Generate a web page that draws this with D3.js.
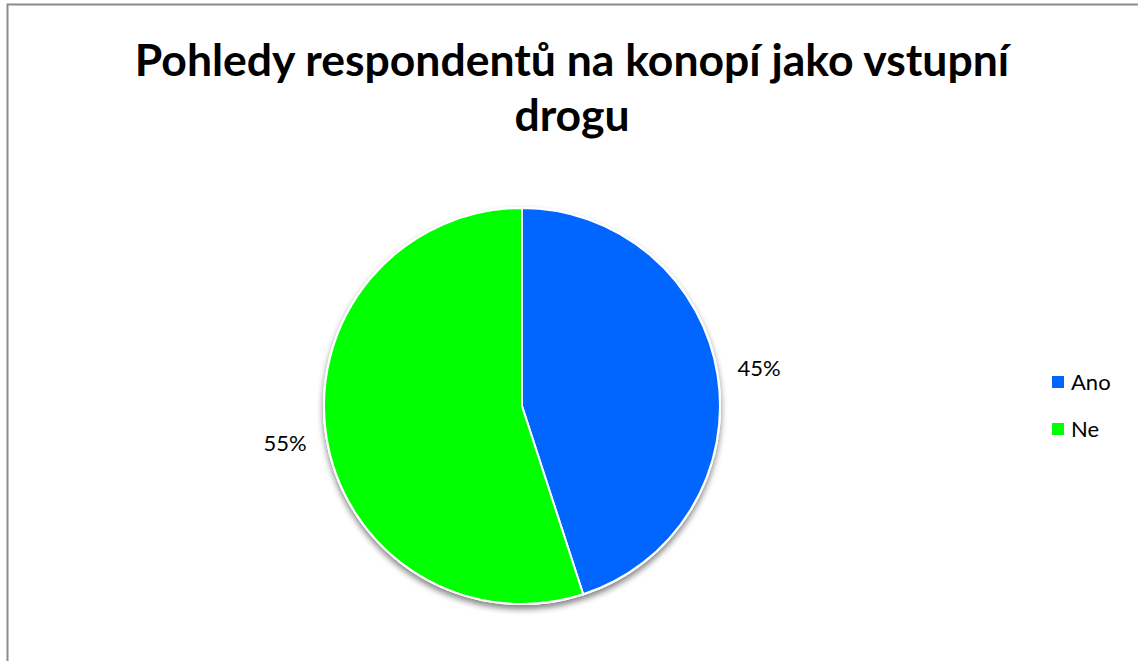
<!DOCTYPE html>
<html>
<head>
<meta charset="utf-8">
<title>Pohledy respondentů</title>
<script src="https://cdn.jsdelivr.net/npm/d3@7/dist/d3.min.js"></script>
<style>
  body { margin: 0; background: #fff; }
  text { font-family: Lato, "Open Sans", sans-serif; }
</style>
</head>
<body>
<div id="chart"></div>
<script>
// data
var categories = ["Ano", "Ne"];
var values = [45, 55];
var colors = ["#0066FF", "#00FF00"];
var titleLines = ["Pohledy respondentů na konopí jako vstupní", "drogu"];

var width = 1138, height = 661;
var cx = 522, cy = 406, r = 198;

var svg = d3.select("#chart").append("svg")
  .attr("width", width)
  .attr("height", height);

// chart area border (only left and top visible)
svg.append("path")
  .attr("d", "M7.5," + height + " V4.5 H" + width)
  .attr("fill", "none")
  .attr("stroke", "#8c8c8c")
  .attr("stroke-width", 2);

// title
svg.append("g").selectAll("text").data(titleLines).enter().append("text")
  .attr("x", 572)
  .attr("y", function(d, i) { return 76 + i * 55; })
  .attr("text-anchor", "middle")
  .style("font-size", "44.5px")
  .style("font-weight", "bold")
  .text(function(d) { return d; });

var defs = svg.append("defs");
var f = defs.append("filter").attr("id", "shadow").attr("x", "-20%").attr("y", "-20%").attr("width", "140%").attr("height", "140%");
f.append("feGaussianBlur").attr("in", "SourceAlpha").attr("stdDeviation", 3);
f.append("feOffset").attr("dx", 0).attr("dy", 4).attr("result", "blur");
f.append("feComponentTransfer").append("feFuncA").attr("type", "linear").attr("slope", 0.5);
var m = f.append("feMerge");
m.append("feMergeNode");
m.append("feMergeNode").attr("in", "SourceGraphic");

var pie = d3.pie().sort(null).value(function(d) { return d; });
var arc = d3.arc().innerRadius(0).outerRadius(r);
var arcs = pie(values);

var g = svg.append("g").attr("transform", "translate(" + cx + "," + cy + ")");
g.append("circle").attr("r", r + 1).attr("fill", "#fff").attr("filter", "url(#shadow)");
g.selectAll("path.slice").data(arcs).enter().append("path")
  .attr("class", "slice")
  .attr("d", arc)
  .attr("fill", function(d, i) { return colors[i]; })
  .attr("stroke", "#fff")
  .attr("stroke-width", 2);

// labels outside
var labelArc = d3.arc().innerRadius(r + 42).outerRadius(r + 42);
g.selectAll("text.lbl").data(arcs).enter().append("text")
  .attr("class", "lbl")
  .attr("transform", function(d) { var c = labelArc.centroid(d); return "translate(" + c[0] + "," + c[1] + ")"; })
  .attr("text-anchor", "middle")
  .attr("dy", "0.35em")
  .style("font-size", "22px")
  .text(function(d) { return d.data + "%"; });

// legend
var leg = svg.append("g").attr("transform", "translate(1052,382)");
var items = leg.selectAll("g").data(categories).enter().append("g")
  .attr("transform", function(d, i) { return "translate(0," + i * 47 + ")"; });
items.append("rect").attr("x", 0).attr("y", -6).attr("width", 12).attr("height", 12)
  .attr("fill", function(d, i) { return colors[i]; });
items.append("text").attr("x", 19).attr("y", 0).attr("dy", "0.35em")
  .style("font-size", "22px")
  .text(function(d) { return d; });
</script>
</body>
</html>
